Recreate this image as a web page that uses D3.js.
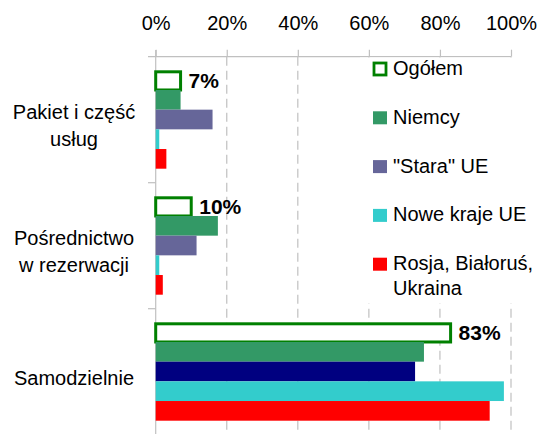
<!DOCTYPE html>
<html>
<head>
<meta charset="utf-8">
<script src="https://cdn.jsdelivr.net/npm/d3@7"></script>
<style>
  html, body { margin: 0; padding: 0; background: #fff; }
  svg { display: block; font-family: "Liberation Sans", Arial, sans-serif; }
</style>
</head>
<body>
<svg id="chart" width="545" height="434"></svg>
<script>
// ---- data ----
const categories = [["Pakiet i część", "usług"], ["Pośrednictwo", "w rezerwacji"], ["Samodzielnie"]];
const seriesNames = ["Ogółem", "Niemcy", "\"Stara\" UE", "Nowe kraje UE", "Rosja, Białoruś, Ukraina"];
const ogolem = [7, 10, 83];
const niemcy = [7, 17.5, 75.5];
const staraUE = [16, 11.5, 73];
const noweUE = [1, 1, 98];
const rosja = [3, 2, 94];
const dataLabels = ["7%", "10%", "83%"];
const tickValues = [0, 20, 40, 60, 80, 100];
const seriesColors = ["#ffffff", "#339966", "#666699", "#33cccc", "#ff0000"];
const staraOverride = ["#666699", "#666699", "#000080"]; // per-category colour of "Stara" UE
const legendLines = [["Ogółem"], ["Niemcy"], ["\"Stara\" UE"], ["Nowe kraje UE"], ["Rosja, Białoruś,", "Ukraina"]];

const values = [ogolem, niemcy, staraUE, noweUE, rosja];

const svg = d3.select("#chart");
const x = d3.scaleLinear().domain([0, 100]).range([155.7, 511]);
const catIdx = categories.map((d, i) => i);
const y0 = d3.scaleBand().domain(catIdx).range([56.7, 434.7]).padding(0);
const y1 = d3.scaleBand().domain(d3.range(seriesNames.length)).range([13.6, 112]).padding(0);

// gridlines
const grid = svg.append("g");
grid.selectAll("line").data(tickValues.filter(v => v > 0)).join("line")
  .attr("x1", d => x(d)).attr("x2", d => x(d))
  .attr("y1", 56.7).attr("y2", 434)
  .attr("stroke", "#c0c0c0").attr("stroke-width", 1.2)
  .attr("stroke-dasharray", "9,5");

// top axis
const axisG = svg.append("g").attr("transform", "translate(0,56.7)");
axisG.call(d3.axisTop(x).tickValues(tickValues).tickFormat(d => d + "%").tickSize(7).tickPadding(20).tickSizeOuter(0));
axisG.select(".domain").remove();
axisG.append("line").attr("x1", 148).attr("x2", x(100)).attr("y1", 0).attr("y2", 0)
  .attr("stroke", "#c0c0c0").attr("stroke-width", 1.2);
axisG.selectAll(".tick line").attr("stroke", "#c0c0c0").attr("stroke-width", 1.2);
axisG.selectAll(".tick text").attr("fill", "#000").attr("font-size", 20)
  .attr("font-family", "Liberation Sans, Arial, sans-serif");

// y axis line + category separator ticks
svg.append("line").attr("x1", x(0)).attr("x2", x(0)).attr("y1", 50).attr("y2", 434)
  .attr("stroke", "#c0c0c0").attr("stroke-width", 1.2);
svg.selectAll(".sep").data([1, 2]).join("line").attr("class", "sep")
  .attr("x1", 148).attr("x2", x(0))
  .attr("y1", d => y0(d)).attr("y2", d => y0(d))
  .attr("stroke", "#c0c0c0").attr("stroke-width", 1.2);

// bars
const groups = svg.selectAll(".grp").data(catIdx).join("g").attr("class", "grp")
  .attr("transform", d => `translate(0,${y0(d)})`);

groups.each(function(ci) {
  const g = d3.select(this);
  values.forEach((arr, si) => {
    if (si === 0) {
      g.append("rect")
        .attr("x", x(0)).attr("y", y1(si) + 1.5)
        .attr("width", x(arr[ci]) - x(0)).attr("height", y1.bandwidth() - 1.5)
        .attr("fill", "#fff").attr("stroke", "#008000").attr("stroke-width", 3);
    } else {
      const col = si === 2 ? staraOverride[ci] : seriesColors[si];
      g.append("rect")
        .attr("x", x(0)).attr("y", y1(si))
        .attr("width", x(arr[ci]) - x(0)).attr("height", y1.bandwidth())
        .attr("fill", col);
    }
  });
  // data label
  g.append("text")
    .attr("x", x(ogolem[ci]) + 8)
    .attr("y", y1(0) + y1.bandwidth() / 2 + 8)
    .attr("font-size", 21).attr("font-weight", "bold").attr("fill", "#000")
    .text(dataLabels[ci]);
  // category label
  const lines = categories[ci];
  const mid = y0.bandwidth() / 2 + 6;
  lines.forEach((ln, li) => {
    const off = (li - (lines.length - 1) / 2) * 27;
    g.append("text").attr("x", 74).attr("y", mid + off + 7)
      .attr("text-anchor", "middle").attr("font-size", 20).attr("fill", "#000")
      .text(ln);
  });
});

// legend
const leg = svg.append("g");
leg.append("rect").attr("x", 360).attr("y", 57.5).attr("width", 185).attr("height", 246).attr("fill", "#fff");
const legStep = 48.8;
legendLines.forEach((lines, i) => {
  const cy = 69 + i * legStep;
  if (i === 0) {
    leg.append("rect").attr("x", 374).attr("y", cy - 6).attr("width", 12).attr("height", 12)
      .attr("fill", "#fff").attr("stroke", "#008000").attr("stroke-width", 2.8);
  } else {
    leg.append("rect").attr("x", 373).attr("y", cy - 6.5).attr("width", 14).attr("height", 13)
      .attr("fill", seriesColors[i]);
  }
  lines.forEach((ln, li) => {
    leg.append("text").attr("x", 393).attr("y", cy + 6 + li * 25)
      .attr("font-size", 20).attr("fill", "#000").text(ln);
  });
});
</script>
</body>
</html>
